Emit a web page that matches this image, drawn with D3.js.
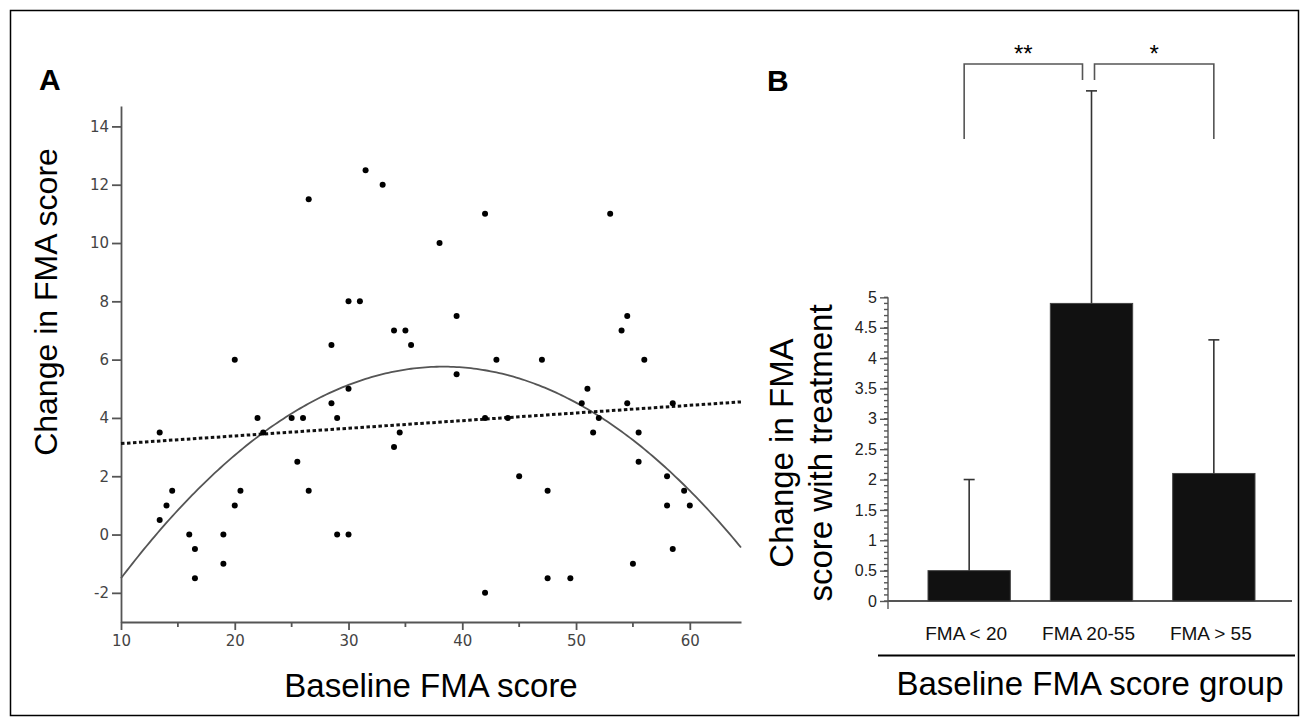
<!DOCTYPE html>
<html>
<head>
<meta charset="utf-8">
<script src="https://cdn.jsdelivr.net/npm/d3@7"></script>
<style>
  html, body { margin: 0; padding: 0; background: #fff; }
  svg { display: block; }
  text { font-family: 'Liberation Sans', Arial, Helvetica, sans-serif; }
</style>
</head>
<body>
<div class="svg-container"></div>
<script>
// Panel A: baseline FMA vs change in FMA, one entry per patient
const baseline = [
  13.4, 13.4, 14.0, 14.5, 16.0, 16.5, 16.5, 19.0, 19.0, 20.0, 20.0, 20.5, 22.0,
  22.5, 25.0, 25.5, 26.0, 26.5, 26.5, 28.5, 28.5, 29.0, 29.0, 30.0, 30.0, 30.0,
  31.0, 31.5, 33.0, 34.0, 35.0, 35.5, 34.5, 34.0, 38.0, 39.5, 39.5, 42.0, 42.0,
  42.0, 43.0, 44.0, 45.0, 47.0, 47.5, 47.5, 49.5, 50.5, 51.0, 51.5, 52.0, 53.0,
  54.0, 54.5, 54.5, 55.5, 55.5, 55.0, 56.0, 58.0, 58.0, 58.5, 58.5, 59.5, 60.0
]
const change = [
  3.5, 0.5, 1.0, 1.5, 0.0, -0.5, -1.5, 0.0, -1.0, 6.0, 1.0, 1.5, 4.0,
  3.5, 4.0, 2.5, 4.0, 1.5, 11.5, 6.5, 4.5, 4.0, 0.0, 0.0, 5.0, 8.0,
  8.0, 12.5, 12.0, 7.0, 7.0, 6.5, 3.5, 3.0, 10.0, 7.5, 5.5, 11.0, 4.0,
  -2.0, 6.0, 4.0, 2.0, 6.0, 1.5, -1.5, -1.5, 4.5, 5.0, 3.5, 4.0, 11.0,
  7.0, 7.5, 4.5, 3.5, 2.5, -1.0, 6.0, 2.0, 1.0, -0.5, 4.5, 1.5, 1.0
]

// fitted curves: y = a x^2 + b x + c and y = m x + k
const quadFit = [-0.00905, 0.6936, -7.531]
const linearFit = [0.02624, 2.858]

const xTicksA = [10, 20, 30, 40, 50, 60]
const xMinorTicksA = [15, 25, 35, 45, 55]
const yTicksA = [-2, 0, 2, 4, 6, 8, 10, 12, 14]

// Panel B: group means with upper error
const groups = ['FMA < 20', 'FMA 20-55', 'FMA > 55']
const groupMeans = [0.5, 4.9, 2.1]
const groupErrors = [1.5, 3.5, 2.2]
const yTicksB = [0, 0.5, 1, 1.5, 2, 2.5, 3, 3.5, 4, 4.5, 5]
const comparisons = [
  { from: 0, to: 1, label: '**' },
  { from: 1, to: 2, label: '*' }
]

const svgWidth = 1308
const svgHeight = 726

const svg = d3
  .select('.svg-container')
  .append('svg')
  .attr('width', svgWidth)
  .attr('height', svgHeight)

svg
  .append('rect')
  .attr('x', 10.5)
  .attr('y', 10.5)
  .attr('width', 1288)
  .attr('height', 705)
  .attr('fill', 'none')
  .attr('stroke', '#000')
  .attr('stroke-width', 1.5)

drawScatter()
drawBars()

function drawScatter() {
  const xScale = d3.scaleLinear([10, 64.5], [121, 741])
  const yScale = d3.scaleLinear([-3, 14.7], [622, 106])
  const axisColor = '#555'

  const xAxis = svg
    .append('g')
    .attr('transform', `translate(0, ${yScale(-3)})`)
    .call(d3.axisBottom(xScale).tickValues(xTicksA).tickSize(8).tickSizeOuter(0).tickPadding(5))

  xAxis
    .selectAll('.minor')
    .data(xMinorTicksA)
    .join('line')
    .classed('minor', true)
    .attr('x1', (d) => xScale(d))
    .attr('x2', (d) => xScale(d))
    .attr('y2', 5)

  const yAxis = svg
    .append('g')
    .attr('transform', `translate(${xScale(10)}, 0)`)
    .call(
      d3.axisLeft(yScale)
        .tickValues(yTicksA)
        .tickFormat((d) => String(d))
        .tickSize(9)
        .tickSizeOuter(0)
        .tickPadding(3)
    )

  for (const axis of [xAxis, yAxis]) {
    axis.selectAll('path, line').attr('stroke', axisColor).attr('stroke-width', 1.8)
    axis
      .selectAll('text')
      .style('font-family', "'DejaVu Sans', sans-serif")
      .style('font-size', '15px')
      .attr('fill', '#444')
  }

  const curveX = d3.range(10, 64.51, 0.25)
  const [a, b, c] = quadFit
  const [m, k] = linearFit

  const line = d3
    .line()
    .x((d) => xScale(d[0]))
    .y((d) => yScale(d[1]))

  svg
    .append('path')
    .datum(curveX.map((x) => [x, a * x * x + b * x + c]))
    .attr('d', line)
    .attr('fill', 'none')
    .attr('stroke', '#555')
    .attr('stroke-width', 1.8)

  svg
    .append('path')
    .datum([[10, m * 10 + k], [64.5, m * 64.5 + k]])
    .attr('d', line)
    .attr('fill', 'none')
    .attr('stroke', '#111')
    .attr('stroke-width', 3)
    .attr('stroke-dasharray', '3.5,2.5')

  svg
    .selectAll('.dot')
    .data(baseline)
    .join('circle')
    .classed('dot', true)
    .attr('cx', (d) => xScale(d))
    .attr('cy', (d, i) => yScale(change[i]))
    .attr('r', 3)
    .attr('fill', '#000')

  svg
    .append('text')
    .attr('x', 39)
    .attr('y', 90)
    .style('font-size', '30px')
    .style('font-weight', 'bold')
    .text('A')

  svg
    .append('text')
    .attr('x', 431)
    .attr('y', 697)
    .attr('text-anchor', 'middle')
    .style('font-size', '33px')
    .text('Baseline FMA score')

  svg
    .append('text')
    .attr('transform', 'translate(57, 302) rotate(-90)')
    .attr('text-anchor', 'middle')
    .style('font-size', '32px')
    .text('Change in FMA score')
}

function drawBars() {
  const xScale = d3.scaleBand(groups, [888, 1295]).padding(0.327)
  const yScale = d3.scaleLinear([0, 5], [601, 297.35])
  const left = 888

  // y axis with minor ticks every 0.1
  const yAxis = svg
    .append('g')
    .attr('transform', `translate(${left}, 0)`)
    .call(
      d3.axisLeft(yScale)
        .tickValues(yTicksB)
        .tickFormat((d) => d)
        .tickSize(8)
        .tickSizeOuter(0)
        .tickPadding(3)
    )

  yAxis
    .selectAll('.minor')
    .data(d3.range(0, 5.001, 0.1))
    .join('line')
    .classed('minor', true)
    .attr('y1', (d) => yScale(d))
    .attr('y2', (d) => yScale(d))
    .attr('x2', -4)

  yAxis.select('.domain').attr('d', `M0,${yScale(5)}V609`)
  yAxis.selectAll('path, line').attr('stroke', '#555').attr('stroke-width', 1.4)
  yAxis
    .selectAll('text')
    .style('font-size', '16px')
    .attr('fill', '#222')

  svg
    .append('line')
    .attr('x1', left)
    .attr('x2', 1292)
    .attr('y1', yScale(0))
    .attr('y2', yScale(0))
    .attr('stroke', '#555')
    .attr('stroke-width', 1.8)

  svg
    .selectAll('.bar')
    .data(groups)
    .join('rect')
    .classed('bar', true)
    .attr('x', (d) => xScale(d))
    .attr('width', xScale.bandwidth())
    .attr('y', (d, i) => yScale(groupMeans[i]))
    .attr('height', (d, i) => yScale(0) - yScale(groupMeans[i]))
    .attr('fill', '#111')
    .attr('stroke', '#444')
    .attr('stroke-width', 1)

  const center = (i) => xScale(groups[i]) + xScale.bandwidth() / 2

  const errors = svg
    .selectAll('.error')
    .data(groups)
    .join('g')
    .classed('error', true)
    .attr('stroke', '#333')
    .attr('stroke-width', 1.6)

  errors
    .append('line')
    .attr('x1', (d, i) => center(i))
    .attr('x2', (d, i) => center(i))
    .attr('y1', (d, i) => yScale(groupMeans[i]))
    .attr('y2', (d, i) => yScale(groupMeans[i] + groupErrors[i]))

  errors
    .append('line')
    .attr('x1', (d, i) => center(i) - 5.5)
    .attr('x2', (d, i) => center(i) + 5.5)
    .attr('y1', (d, i) => yScale(groupMeans[i] + groupErrors[i]))
    .attr('y2', (d, i) => yScale(groupMeans[i] + groupErrors[i]))

  // significance brackets
  comparisons.forEach((comp, index) => {
    const x1 = index === 0 ? center(comp.from) - 5 : center(comp.from) + 3
    const x2 = index === 0 ? center(comp.to) - 9 : center(comp.to)
    const y1 = index === 0 ? 139 : 80
    const y2 = index === 0 ? 80 : 139

    svg
      .append('path')
      .attr('d', `M${x1},${y1}V64H${x2}V${y2}`)
      .attr('fill', 'none')
      .attr('stroke', '#555')
      .attr('stroke-width', 1.6)

    svg
      .append('text')
      .attr('x', (x1 + x2) / 2)
      .attr('y', 62)
      .attr('text-anchor', 'middle')
      .style('font-size', '24px')
      .text(comp.label)
  })

  svg
    .selectAll('.group-label')
    .data(groups)
    .join('text')
    .classed('group-label', true)
    .attr('x', (d) => xScale(d) + xScale.bandwidth() / 2 - 3)
    .attr('y', 640)
    .attr('text-anchor', 'middle')
    .style('font-size', '19px')
    .attr('fill', '#111')
    .text((d) => d)

  svg
    .append('line')
    .attr('x1', 878)
    .attr('x2', 1295)
    .attr('y1', 655.5)
    .attr('y2', 655.5)
    .attr('stroke', '#000')
    .attr('stroke-width', 2)

  svg
    .append('text')
    .attr('x', 1090)
    .attr('y', 695)
    .attr('text-anchor', 'middle')
    .style('font-size', '33px')
    .text('Baseline FMA score group')

  svg
    .append('text')
    .attr('x', 767)
    .attr('y', 91)
    .style('font-size', '30px')
    .style('font-weight', 'bold')
    .text('B')

  svg
    .append('text')
    .attr('transform', 'translate(793, 453) rotate(-90)')
    .attr('text-anchor', 'middle')
    .style('font-size', '33px')
    .text('Change in FMA')

  svg
    .append('text')
    .attr('transform', 'translate(832, 453) rotate(-90)')
    .attr('text-anchor', 'middle')
    .style('font-size', '33px')
    .text('score with treatment')
}
</script>
</body>
</html>
